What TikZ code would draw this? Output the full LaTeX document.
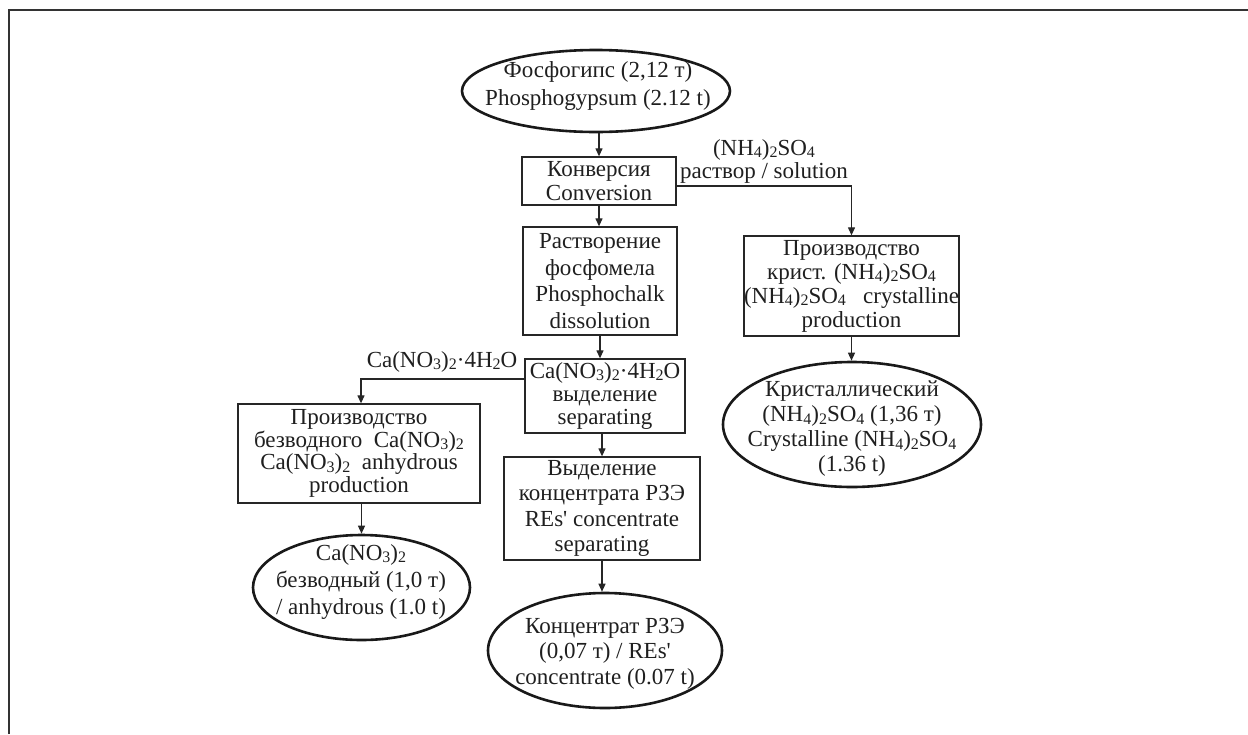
\documentclass[tikz,border=0pt]{standalone}
\usepackage{fontspec}
\setmainfont{Liberation Serif}
\usetikzlibrary{arrows.meta,calc,shapes.geometric}
\newcommand\sbs[1]{\raisebox{-0.1em}{\fontsize{16}{16}\selectfont #1}}
\begin{document}
\begin{tikzpicture}[x=1pt,y=-1pt,
  every node/.style={font=\fontsize{23}{26}\selectfont, align=center, inner sep=0pt, text=black!88},
  lskip/.style={font=\fontsize{23}{#1}\selectfont},
  box/.style={draw=black!85, line width=1.3pt, rectangle},
  oval/.style={draw=black!90, line width=2.6pt, ellipse},
  arr/.style={draw=black!85, line width=1.2pt, -{Triangle[length=8pt,width=7pt]}},
  frame/.style={line width=1.4pt, draw=black!80}
]
\path[use as bounding box] (0,0) rectangle (1248,734);
% frame (top and left only)
\draw[frame] (9,734) -- (9,10) -- (1248,10);

% top ellipse
\node[oval, minimum width=268pt, minimum height=82pt] (e1) at (596,91) {};
\node[lskip=28] (e1t) at (598,85.5) {Фосфогипс (2,12 т)\\Phosphogypsum (2.12 t)};

% conversion
\node[box, lskip=24, minimum width=154pt, minimum height=48pt] (conv) at (599,181) {Конверсия\\Conversion};

% dissolution
\node[box, lskip=26.5, minimum width=154pt, minimum height=108pt] (rast) at (600,281)
  {Растворение\\фосфомела\\Phosphochalk\\dissolution};

% Ca nitrate separating
\node[box, lskip=23, minimum width=160pt, minimum height=74pt] (casep) at (605,396)
  {Ca(NO\sbs3)\sbs2·4H\sbs2O\\выделение\\separating};

% REE concentrate separating
\node[box, lskip=25.5, minimum width=196pt, minimum height=103pt] (rees) at (602,508.5)
  {Выделение\\концентрата РЗЭ\\REs\textquotesingle{} concentrate\\separating};

% REE ellipse
\node[oval, minimum width=234pt, minimum height=115pt] (e4) at (605,650.5) {};
\node[lskip=25.5] (e4t) at (605,653.5) {Концентрат РЗЭ\\(0,07 т) / REs\textquotesingle\\concentrate (0.07 t)};

% left box
\node[box, lskip=22.5, minimum width=242pt, minimum height=99pt] (lbox) at (359,453.5)
  {Производство\\безводного\ \ Ca(NO\sbs3)\sbs2\\Ca(NO\sbs3)\sbs2\ \ anhydrous\\production};

% left ellipse
\node[oval, minimum width=217pt, minimum height=105pt] (e3) at (361.5,587.5) {};
\node[lskip=27] (e3t) at (361,582) {Ca(NO\sbs3)\sbs2\\безводный (1,0 т)\\/ anhydrous (1.0 t)};

% right box
\node[box, lskip=24, minimum width=211pt, minimum height=100pt] (prod) at (851.5,286)
  {Производство\\крист. (NH\sbs4)\sbs2SO\sbs4\\(NH\sbs4)\sbs2SO\sbs4\ \ \ crystalline\\production};

% right ellipse
\node[oval, minimum width=258pt, minimum height=125pt] (e2) at (852,424.5) {};
\node[lskip=25] (e2t) at (852,429) {Кристаллический\\(NH\sbs4)\sbs2SO\sbs4 (1,36 т)\\Crystalline (NH\sbs4)\sbs2SO\sbs4\\(1.36 t)};

% labels
\node[lskip=23] (lab1) at (764,161) {(NH\sbs4)\sbs2SO\sbs4\\раствор / solution};
\node (lab2) at (442,362) {Ca(NO\sbs3)\sbs2·4H\sbs2O};

% connectors
\draw[arr] (conv.north |- e1.south) -- (conv.north);
\draw[arr] (conv.south) -- (conv.south |- rast.north);
\coordinate (cr) at ($(conv.east)+(0,5)$);
\draw[arr] (cr) -| (prod.north);
\draw[arr] (prod.south) -- (prod.south |- e2.north);
\draw[arr] (rast.south) -- (rast.south |- casep.north);
\coordinate (cl) at ($(casep.west)+(0,-17)$);
\coordinate (lt) at ($(lbox.north)+(2,0)$);
\draw[arr] (cl) -| (lt);
\draw[arr] (casep.south -| rees.north) -- (rees.north);
\draw[arr] (lbox.south -| e3.north) -- (e3.north);
\draw[arr] (rees.south) -- (rees.south |- e4.north);
\end{tikzpicture}
\end{document}
